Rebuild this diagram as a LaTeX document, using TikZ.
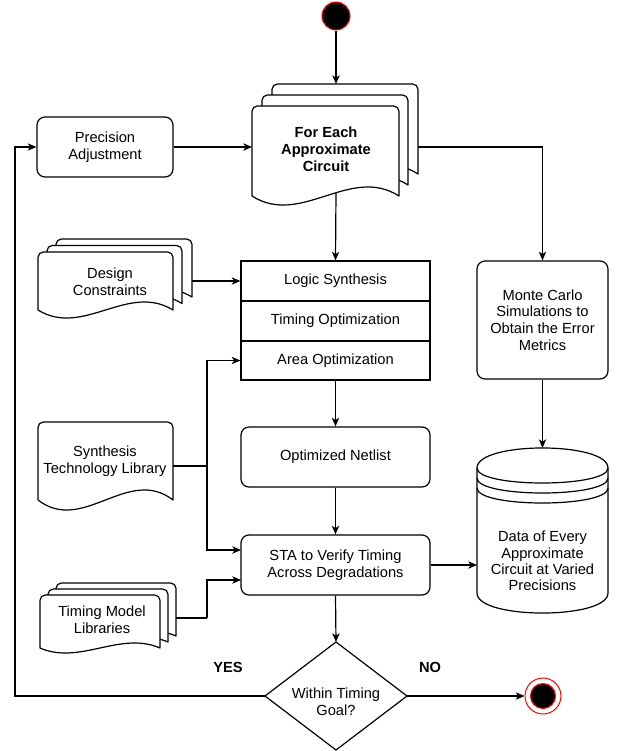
\documentclass[tikz,border=0pt]{standalone}
\usepackage{fontspec}
\setmainfont{Liberation Sans}
\usetikzlibrary{arrows.meta}
\newcommand{\docsheet}[5]{%
  \draw[sheet] ({#1},{#2+#4-#5}) [rounded corners=4pt] -- ({#1},{#2}) -- ({#1+#3},{#2}) [sharp corners] -- ({#1+#3},{#2+#4-#5})
   .. controls ({#1+#3*2/3},{#2+#4-#5-3.47*#5}) and ({#1+#3/3},{#2+#4-#5+3.47*#5}) .. ({#1},{#2+#4-#5}) -- cycle;}
\begin{document}
\begin{tikzpicture}[x=0.75pt,y=-0.75pt, line width=0.9pt,
  font=\fontsize{11}{12.5}\selectfont,
  box/.style={draw, fill=white, rounded corners=6pt, inner sep=0pt, align=center},
  plainbox/.style={inner sep=0pt, align=center, minimum width=141.75pt},
  txt/.style={inner sep=0pt, align=center},
  arr/.style={-{Stealth[length=6.5pt,width=5.5pt,inset=1.8pt]}},
  sheet/.style={draw, fill=white, line join=round}]
\useasboundingbox (0,0) rectangle (620,751);

% start
\node[circle, fill=black, draw=red, line width=0.75pt, minimum size=21pt, inner sep=0pt] (start) at (336,16) {};

% Precision adjustment
\node[box, minimum width=102pt, minimum height=45pt] (prec) at (105,147) {Precision\\Adjustment};

% For each approximate circuit (multi document)
\docsheet{272}{84}{146}{99}{9}
\docsheet{262}{95}{146}{99}{9}
\docsheet{252}{106}{147}{99}{9}
\node[txt, font=\fontsize{11}{12.7}\selectfont\bfseries] (fe) at (326,149) {For Each\\Approximate\\Circuit};
\coordinate (fetop) at (336,84);
\coordinate (fein) at (252,147);
\coordinate (feout) at (418,147);
\coordinate (febot) at (336,193);

% Design constraints
\docsheet{56}{239}{136}{66}{8}
\docsheet{47}{245.5}{135}{66}{8}
\docsheet{38}{252}{135}{66}{8}
\node[txt] (dc) at (110,282) {Design\\Constraints};
\coordinate (dcout) at (192,281);

% Synthesis technology library
\docsheet{38}{422}{135}{88}{10}
\node[txt] (stl) at (105,461) {Synthesis\\Technology Library};
\coordinate (stlout) at (173,466);
\coordinate (j1) at (207,466);

% Timing model libraries
\docsheet{56}{583}{120}{58}{5}
\docsheet{48}{589}{120}{58}{5}
\docsheet{40}{595}{120}{58}{5}
\node[txt] (tml) at (102,620) {Timing Model\\Libraries};
\coordinate (tmlout) at (176,618);
\coordinate (j2) at (207,618);

% stack
\draw[fill=white] (241,261) rectangle (430,380);
\draw (241,301) -- (430,301);
\draw (241,341) -- (430,341);
\node[plainbox, minimum height=30pt] (logic) at (335.5,281) {Logic Synthesis};
\node[plainbox, minimum height=30pt] (timing) at (335.5,321) {Timing Optimization};
\node[plainbox, minimum height=29.25pt] (area) at (335.5,360.5) {Area Optimization};

% Monte Carlo
\node[box, minimum width=98.25pt, minimum height=88.5pt] (mc) at (542.5,320) {Monte Carlo\\Simulations to\\Obtain the Error\\Metrics};

% Netlist and STA
\node[box, minimum width=141.75pt, minimum height=45pt] (net) at (335.5,457) {Optimized Netlist};
\node[box, minimum width=141.75pt, minimum height=45pt] (sta) at (335.5,565) {STA to Verify Timing\\Across Degradations};
\coordinate (stain1) at (241,550);
\coordinate (stain2) at (241,580);

% Cylinder
\draw[fill=white] (477,468) .. controls (477,441.3) and (608,441.3) .. (608,468) -- (608,593)
  .. controls (608,619.7) and (477,619.7) .. (477,593) -- cycle;
\foreach \k in {0,10,20}{
  \draw (477,468+\k) .. controls (477,488+\k) and (608,488+\k) .. (608,468+\k);
}
\node[txt, font=\fontsize{11}{12.2}\selectfont] (cyl) at (542.5,561) {Data of Every\\Approximate\\Circuit at Varied\\Precisions};
\coordinate (cyltop) at (542.5,448);
\coordinate (cylin) at (477,565);

% Diamond
\draw[fill=white] (336,642) coordinate (dtop) -- (407,696) coordinate (dright) -- (336,750) coordinate (dbot) -- (265,696) coordinate (dleft) -- cycle;
\node[txt] (dtext) at (336,702) {Within Timing\\Goal?};

% End
\node[circle, draw=red, line width=0.75pt, fill=white, minimum size=27pt, inner sep=0pt] (endc) at (543,696) {};
\node[circle, draw=red, fill=black, line width=0.75pt, minimum size=18.75pt, inner sep=0pt] (endi) at (543,696) {};

% labels
\node[txt, font=\fontsize{11}{12.5}\selectfont\bfseries] (yes) at (228,667) {YES};
\node[txt, font=\fontsize{11}{12.5}\selectfont\bfseries] (no) at (430,667) {NO};

% connectors
\draw[arr] (start) -- (fetop);
\draw[arr] (prec.east) -- (fein);
\draw[arr] (feout) -| (mc.north);
\draw[arr] (febot) -- (logic.north);
\draw[arr] (dcout) -- (logic.west);
\draw (stlout) -- (j1);
\draw[arr] (j1) |- (area.west);
\draw[arr] (j1) |- (stain1);
\draw (tmlout) -- (j2);
\draw[arr] (j2) |- (stain2);
\draw[arr] (area.south) -- (net.north);
\draw[arr] (net.south) -- (sta.north);
\draw[arr] (sta.east) -- (cylin);
\draw[arr] (mc.south) -- (cyltop);
\draw[arr] (sta.south) -- (dtop);
\draw[arr] (dright) -- (endc.west);
\draw[arr] (dleft) -- (15,696) |- (prec.west);
\end{tikzpicture}
\end{document}
